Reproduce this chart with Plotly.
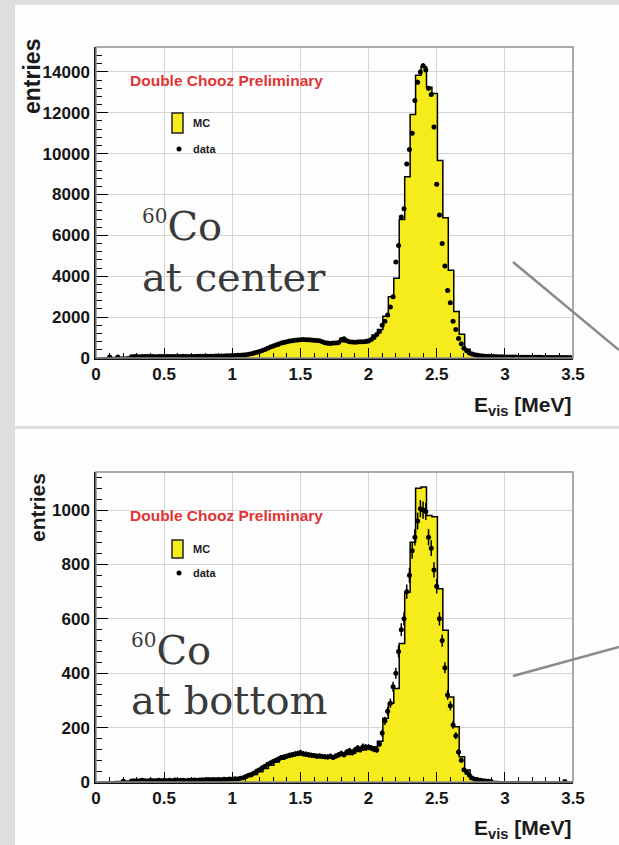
import numpy as np
import plotly.graph_objects as go

W, H = 619, 845

# ---------------- data ----------------
mc_bin_width = 0.04
mc_first_center = 0.005

mc_top = [
    0, 0, 10, 20, 30, 40, 55, 65, 70, 70,
    70, 72, 72, 74, 75, 76, 78, 80, 82, 84,
    86, 88, 92, 98, 108, 122, 140, 165, 200, 255,
    330, 420, 510, 600, 690, 760, 820, 860, 880, 880,
    870, 845, 810, 790, 790, 800, 805, 810, 820, 840,
    900, 1120, 1400, 2040, 3000, 3900, 6780, 8870, 11920, 13840,
    14250, 13250, 12950, 9670, 6860, 4290, 2280, 1160, 430, 200,
    130, 95, 75, 65, 58, 52, 48, 44, 40, 37,
    35, 33, 31, 29, 27, 25, 23, 21,
]

mc_bottom = [
    0, 0, 0, 1, 2, 3, 4, 4, 4, 4,
    5, 5, 5, 5, 5, 5, 6, 6, 6, 7,
    7, 8, 8, 9, 9, 10, 12, 15, 20, 28,
    38, 50, 62, 74, 84, 92, 98, 100, 100, 98,
    95, 93, 92, 92, 94, 97, 101, 106, 112, 118,
    125, 130, 150, 234, 290, 344, 509, 698, 882, 1080,
    1085, 980, 975, 711, 558, 313, 203, 93, 44, 10,
    4, 3, 2, 2, 1, 1, 1, 1, 1, 0,
    0, 0, 0, 0, 0, 0, 0, 0,
]

data_first = 0.10
data_step = 0.02

data_top = [
    50, 0, 0, 45, 0, 0, 0, 0, 60, 70,
    70, 65, 75, 70, 68, 72, 70, 66, 74, 70,
    72, 70, 76, 74, 78, 72, 75, 80, 76, 78,
    80, 78, 82, 85, 80, 84, 88, 86, 90, 92,
    95, 98, 100, 105, 110, 118, 125, 130, 140, 150,
    165, 185, 210, 240, 280, 320, 370, 420, 480, 540,
    590, 640, 690, 730, 770, 800, 830, 850, 870, 880,
    890, 900, 895, 890, 880, 870, 860, 845, 800, 750,
    720, 710, 730, 740, 760, 900, 940, 850, 800, 780,
    770, 780, 790, 800, 810, 830, 900, 1000, 1150, 1300,
    1600, 1800, 2100, 2500, 3000, 4700, 5500, 6900, 7300, 9500,
    10200, 11000, 12600, 13500, 14000, 14300, 14100, 13200, 12900, 11300,
    8500, 7000, 5600, 4500, 3300, 2700, 1800, 1400, 950, 700,
    480, 350, 250, 200, 160, 130, 110, 95, 85, 80,
    75, 70, 65, 60, 58, 55, 52, 50, 48, 45,
    42, 40, 40, 38, 36, 35, 34, 33, 32, 30,
    30, 29, 28, 27, 26, 25, 24, 23, 22, 20,
]

data_bottom = [
    0, 0, 0, 0, 0, 3, 0, 0, 4, 5,
    4, 5, 6, 5, 4, 6, 5, 5, 6, 5,
    6, 5, 6, 5, 7, 5, 6, 6, 5, 6,
    6, 7, 6, 7, 8, 7, 9, 8, 9, 8,
    9, 8, 10, 9, 11, 10, 12, 11, 14, 16,
    20, 25, 28, 33, 40, 45, 52, 58, 65, 70,
    75, 80, 85, 90, 92, 95, 98, 100, 103, 105,
    108, 104, 102, 100, 98, 97, 95, 96, 94, 93,
    92, 95, 90, 96, 100, 105, 100, 110, 115, 108,
    118, 125, 120, 130, 128, 128, 125, 120, 118, 140,
    180, 225, 260, 290, 350, 400, 480, 560, 600, 700,
    760, 850, 900, 960, 1005, 1000, 995, 900, 860, 780,
    720, 600, 520, 420, 320, 280, 210, 170, 110, 80,
    45, 35, 25, 15, 10, 8, 6, 5, 4, 3,
    2, 0, 0, 0, 0, 0, 0, 0, 0, 0,
    0, 0, 0, 0, 0, 0, 0, 0, 0, 0,
    0, 0, 0, 0, 0, 0, 0, 2, 0, 0,
]

x_ticks = [0, 0.5, 1, 1.5, 2, 2.5, 3, 3.5]
x_tick_labels = ["0", "0.5", "1", "1.5", "2", "2.5", "3", "3.5"]
y_ticks_top = [0, 2000, 4000, 6000, 8000, 10000, 12000, 14000]
y_ticks_bottom = [0, 200, 400, 600, 800, 1000]
y_range_top = [0, 15220]
y_range_bottom = [0, 1140]
x_range = [0, 3.5]

# ---------------- helpers ----------------
def pxx(x):
    return x / W

def pyy(y):
    return 1 - y / H

YELLOW = "#f6ec1c"
TICKFONT = dict(family="Liberation Sans", size=17, color="#151515", weight="bold")


def mc_step(values):
    vals = np.array(values, dtype=float)
    centers = mc_first_center + mc_bin_width * np.arange(len(vals))
    left = centers - mc_bin_width / 2
    xs = np.append(left, left[-1] + mc_bin_width)
    ys = np.append(vals, vals[-1])
    return xs, ys


def data_points(values):
    vals = np.array(values, dtype=float)
    xs = data_first + data_step * np.arange(len(vals))
    keep = vals > 0
    return xs[keep], vals[keep]


fig = go.Figure()

panels = [
    ("x", "y", mc_top, data_top),
    ("x2", "y2", mc_bottom, data_bottom),
]
for xa, ya, mc, dat in panels:
    sx, sy = mc_step(mc)
    fig.add_trace(go.Scatter(
        x=sx, y=sy, xaxis=xa, yaxis=ya, mode="lines", line_shape="hv",
        line=dict(color="black", width=1.5), fill="tozeroy", fillcolor=YELLOW,
        showlegend=False, hoverinfo="skip"))
    dx, dy = data_points(dat)
    fig.add_trace(go.Scatter(
        x=dx, y=dy, xaxis=xa, yaxis=ya, mode="markers",
        marker=dict(color="black", size=5),
        error_y=dict(type="data", array=np.sqrt(dy), color="black", thickness=1.5, width=0),
        error_x=dict(type="constant", value=data_step / 2, color="black", thickness=1.5, width=0),
        showlegend=False, hoverinfo="skip"))


def xaxis_cfg(anchor):
    return dict(
        domain=[pxx(96), pxx(573)], range=x_range, anchor=anchor,
        tickmode="array", tickvals=x_ticks, ticktext=x_tick_labels,
        ticks="inside", ticklen=10, tickwidth=1, tickcolor="black",
        minor=dict(tick0=0, dtick=0.1, ticks="inside", ticklen=5, tickwidth=1,
                   tickcolor="black", showgrid=False),
        showgrid=True, gridcolor="#d4d4d4", gridwidth=1,
        showline=True, linecolor="#111", linewidth=1.5, zeroline=False,
        tickfont=TICKFONT, ticklabelstandoff=0, automargin=False)


def yaxis_cfg(anchor, dom, rng, ticks, minor_dtick):
    return dict(
        domain=dom, range=rng, anchor=anchor,
        tickmode="array", tickvals=ticks, ticktext=[str(t) for t in ticks],
        ticks="inside", ticklen=12, tickwidth=1, tickcolor="black",
        minor=dict(tick0=0, dtick=minor_dtick, ticks="inside", ticklen=6, tickwidth=1,
                   tickcolor="black", showgrid=False),
        showgrid=True, gridcolor="#d4d4d4", gridwidth=1,
        showline=True, linecolor="#111", linewidth=1.5, zeroline=False,
        tickfont=TICKFONT, ticklabelstandoff=1, automargin=False)


shapes = [
    # white slide panels
    dict(type="rect", xref="paper", yref="paper", x0=pxx(15), x1=1.0, y0=pyy(426), y1=pyy(5),
         fillcolor="#fdfdfd", line=dict(width=0), layer="below"),
    dict(type="rect", xref="paper", yref="paper", x0=pxx(15), x1=1.0, y0=0.0, y1=pyy(429),
         fillcolor="#fdfdfd", line=dict(width=0), layer="below"),
    # frames
    dict(type="rect", xref="x domain", yref="y domain", x0=0, x1=1, y0=0, y1=1,
         line=dict(color="#8f8f8f", width=1.5), layer="above"),
    dict(type="rect", xref="x2 domain", yref="y2 domain", x0=0, x1=1, y0=0, y1=1,
         line=dict(color="#8f8f8f", width=1.5), layer="above"),
    # diagonal pointer lines
    dict(type="line", xref="paper", yref="paper", x0=pxx(513), y0=pyy(262), x1=pxx(619), y1=pyy(350),
         line=dict(color="#8a8a8a", width=2.5), layer="above"),
    dict(type="line", xref="paper", yref="paper", x0=pxx(513), y0=pyy(676), x1=pxx(619), y1=pyy(647),
         line=dict(color="#8a8a8a", width=2.5), layer="above"),
    # legend boxes
    dict(type="rect", xref="paper", yref="paper", x0=pxx(172), x1=pxx(183), y0=pyy(133), y1=pyy(113),
         fillcolor=YELLOW, line=dict(color="#222", width=1.5), layer="above"),
    dict(type="rect", xref="paper", yref="paper", x0=pxx(172), x1=pxx(183), y0=pyy(558), y1=pyy(540),
         fillcolor=YELLOW, line=dict(color="#222", width=1.5), layer="above"),
    dict(type="circle", xref="paper", yref="paper", x0=pxx(176.5), x1=pxx(181.5), y0=pyy(151.5), y1=pyy(146.5),
         fillcolor="black", line=dict(width=0), layer="above"),
    dict(type="circle", xref="paper", yref="paper", x0=pxx(176.5), x1=pxx(181.5), y0=pyy(575.5), y1=pyy(570.5),
         fillcolor="black", line=dict(width=0), layer="above"),
]

annotations = []


def ann(text, x, y, size, family="Liberation Sans", color="#1a1a1a", xanchor="left",
        yanchor="middle", angle=0, bold=False):
    annotations.append(dict(
        text=text, x=pxx(x), y=pyy(y), xref="paper", yref="paper", showarrow=False,
        xanchor=xanchor, yanchor=yanchor, textangle=angle,
        font=dict(family=family, size=size, color=color, weight="bold" if bold else "normal")))


SERIF = "DejaVu Serif"
CO_COLOR = "#3a3a3a"

# top panel texts
ann("Double Chooz Preliminary", 128, 80, 15.5, color="#e03434", bold=True)
ann("MC", 191, 123, 11, bold=True)
ann("data", 191, 149, 11, bold=True)
ann("<sup><span style='font-size:20px'>60</span></sup>Co", 140, 226, 40, family=SERIF, color=CO_COLOR)
ann("at center", 140, 277, 40, family=SERIF, color=CO_COLOR)
ann("<b>E<sub>vis</sub> [MeV]</b>", 573, 406, 21, xanchor="right")
ann("entries", 32, 77, 23, angle=-90, bold=True, xanchor="center")

# bottom panel texts
ann("Double Chooz Preliminary", 128, 515, 15.5, color="#e03434", bold=True)
ann("MC", 191, 549, 11, bold=True)
ann("data", 191, 573, 11, bold=True)
ann("<sup><span style='font-size:20px'>60</span></sup>Co", 129, 650, 40, family=SERIF, color=CO_COLOR)
ann("at bottom", 129, 700, 40, family=SERIF, color=CO_COLOR)
ann("<b>E<sub>vis</sub> [MeV]</b>", 573, 829, 21, xanchor="right")
ann("entries", 37, 508, 21, angle=-90, bold=True, xanchor="center")

fig.update_layout(
    width=W, height=H, margin=dict(l=0, r=0, t=0, b=0, pad=0, autoexpand=False), autosize=False,
    paper_bgcolor="#dedede", plot_bgcolor="#ffffff",
    xaxis=xaxis_cfg("y"),
    yaxis=yaxis_cfg("x", [pyy(358), pyy(47)], y_range_top, y_ticks_top, 400),
    xaxis2=xaxis_cfg("y2"),
    yaxis2=yaxis_cfg("x2", [pyy(782), pyy(472)], y_range_bottom, y_ticks_bottom, 40),
    shapes=shapes, annotations=annotations, showlegend=False,
)

fig.write_html(
    "out.html",
    config={"responsive": False, "displayModeBar": False},
    post_script="document.body.style.margin='0';document.body.style.overflow='hidden';",
)
